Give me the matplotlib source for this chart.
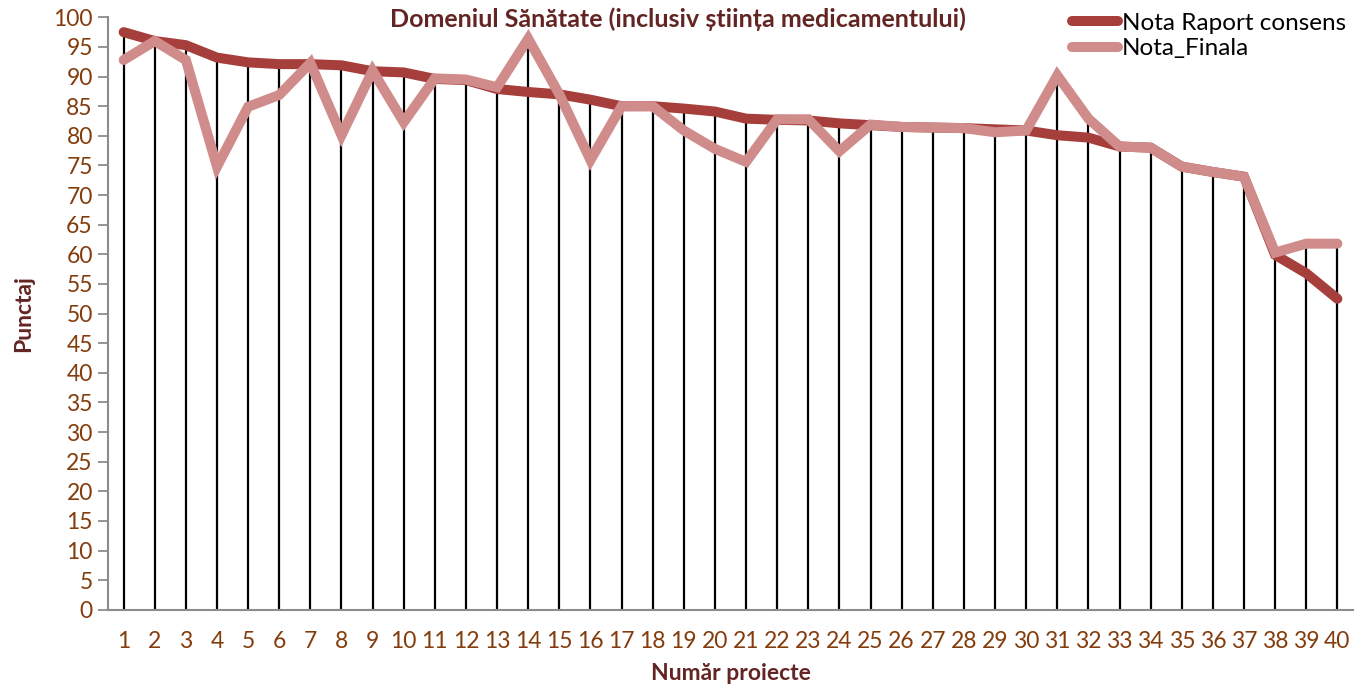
import matplotlib
matplotlib.use("Agg")
import matplotlib.pyplot as plt
import numpy as np

projects = list(range(1, 41))
nota_raport = [97.5, 96.0, 95.3, 93.2, 92.4, 92.1, 92.1, 91.9, 90.9, 90.7,
               89.6, 89.4, 87.9, 87.4, 87.0, 86.1, 85.0, 85.0, 84.6, 84.1,
               82.9, 82.7, 82.6, 82.1, 81.8, 81.5, 81.4, 81.3, 81.1, 80.9,
               80.1, 79.7, 78.2, 78.0, 74.8, 73.9, 73.1, 59.9, 56.8, 52.5]
nota_finala = [92.8, 96.0, 92.8, 74.8, 84.9, 86.9, 92.3, 80.1, 91.0, 82.3,
               89.7, 89.5, 88.2, 96.4, 87.0, 75.9, 85.0, 85.0, 80.9, 77.8,
               75.6, 82.8, 82.8, 77.4, 81.9, 81.5, 81.4, 81.3, 80.6, 80.9,
               90.2, 82.9, 78.2, 78.0, 74.8, 73.9, 73.1, 60.3, 61.8, 61.8]
yticks = list(range(0, 101, 5))

FONT = ["Lato", "DejaVu Sans"]
plt.rcParams['font.family'] = FONT

fig = plt.figure(figsize=(13.68, 6.93), dpi=100)
ax = fig.add_axes([0.079, 0.120, 0.910, 0.855])

tops = np.maximum(nota_raport, nota_finala)
ax.vlines(projects, 0, tops, colors="black", linewidth=1.6, zorder=1)
ax.plot(projects, nota_raport, color="#A63F3C", linewidth=7.2,
        solid_capstyle="round", solid_joinstyle="miter", label="Nota Raport consens", zorder=2)
ax.plot(projects, nota_finala, color="#D08C8B", linewidth=7.2,
        solid_capstyle="round", solid_joinstyle="miter", label="Nota_Finala", zorder=3)

ax.set_xlim(0.5, 40.5)
ax.set_ylim(0, 100)
ax.set_yticks(yticks)
ax.set_xticks(projects)
ax.set_xticklabels([str(p) for p in projects])

for s in ["top", "right"]:
    ax.spines[s].set_visible(False)
for s in ["left", "bottom"]:
    ax.spines[s].set_color("#8c8c8c")
    ax.spines[s].set_linewidth(1.5)

ax.tick_params(axis="y", direction="out", length=7, width=1.3, color="#8c8c8c",
               labelsize=16.5, labelcolor="#843C0C", pad=4)
ax.tick_params(axis="x", length=0, labelsize=16.5, labelcolor="#843C0C", pad=15)

ax.set_ylabel("Punctaj", fontsize=16.5, fontweight="bold", color="#632523", labelpad=14)
ax.set_xlabel("Număr proiecte", fontsize=16.5, fontweight="bold", color="#632523", labelpad=8)

ax.text(0.458, 1.017, "Domeniul Sănătate (inclusiv știința medicamentului)",
        transform=ax.transAxes, ha="center", va="top", fontsize=18,
        fontweight="bold", color="#632523")

leg = ax.legend(loc="upper right", bbox_to_anchor=(1.012, 1.045), frameon=False,
                fontsize=17.5, handlelength=1.9, handletextpad=0.15, labelspacing=0.2)

fig.savefig("out.png", dpi=100)
